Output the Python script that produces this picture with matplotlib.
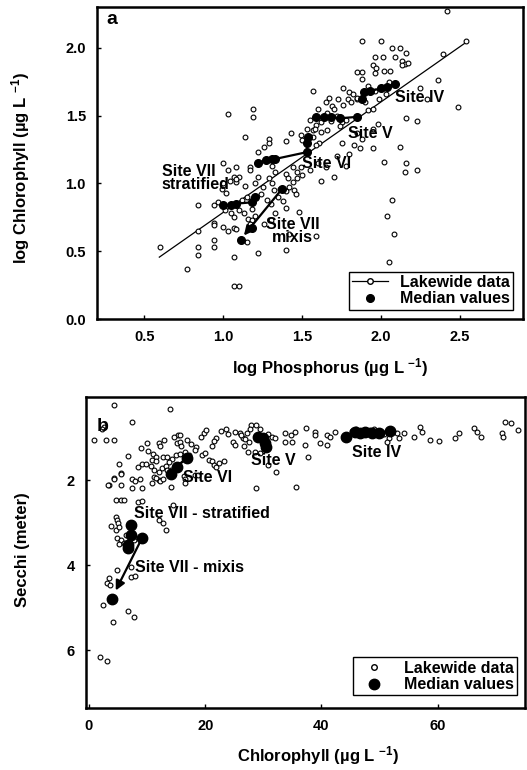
import matplotlib
matplotlib.use("Agg")
import matplotlib.pyplot as plt
from matplotlib.lines import Line2D

plt.rcParams['font.family'] = ['Liberation Sans', 'DejaVu Sans']
plt.rcParams['font.weight'] = 'bold'
plt.rcParams['mathtext.fontset'] = 'custom'
plt.rcParams['mathtext.rm'] = 'Liberation Sans:bold'
plt.rcParams['mathtext.default'] = 'rm'

# ---------------- Panel a data ----------------
a_lake = [
    (0.60,0.53),(0.77,0.37),(0.84,0.84),(0.84,0.65),(0.84,0.53),(0.84,0.47),(0.94,0.58),(0.94,0.53),
    (0.94,0.71),(0.94,0.69),(1.00,0.68),(1.03,0.65),(1.07,0.67),(1.08,0.66),(1.07,0.46),(1.07,0.24),
    (1.10,0.24),(1.15,0.57),(1.22,0.49),(1.40,0.51),(1.48,0.79),(1.40,0.82),(1.59,0.61),(1.42,0.63),
    (2.07,0.88),(2.04,0.76),(2.08,0.63),(2.05,0.42),
    (0.94,0.84),(0.97,0.86),(1.01,0.80),(1.05,0.78),(1.07,0.75),(1.10,0.80),(1.13,0.78),(1.16,0.74),
    (1.18,0.73),(1.17,0.70),(1.20,0.76),(1.18,0.81),(1.12,0.88),(1.15,0.90),(1.24,0.92),(1.28,0.88),
    (1.30,0.85),(1.33,0.78),(1.30,0.73),(1.26,0.70),
    (1.00,1.00),(1.04,1.02),(1.08,1.01),(1.14,0.98),(1.20,1.00),(1.42,0.97),(1.45,0.95),(0.99,0.96),
    (1.02,0.93),
    (1.03,1.51),(1.19,1.55),(1.19,1.49),(1.14,1.34),(1.29,1.33),(1.29,1.30),(1.26,1.27),(1.40,1.31),
    (1.43,1.37),(1.22,1.23),(1.00,1.15),(1.03,1.10),(1.08,1.12),(1.07,1.05),(1.10,1.05),(1.08,1.03),
    (1.17,1.12),(1.17,1.10),(1.22,1.05),(1.31,1.13),(1.33,1.08),(1.29,1.04),(1.31,1.00),(1.40,1.07),
    (1.41,1.04),(1.44,1.01),(1.47,1.04),(1.50,1.06),(1.44,1.12),(1.47,1.08),(1.49,1.12),(1.49,1.36),
    (1.53,1.40),(1.50,1.32),(1.57,1.39),(1.59,1.43),(1.62,1.38),(1.66,1.39),(1.57,1.34),(1.61,1.30),
    (1.59,1.28),(1.25,0.97),(1.32,0.95),(1.36,0.96),(1.40,0.94),(1.35,0.90),(1.38,0.87),(1.46,0.92),
    (1.55,1.10),(1.60,1.15),(1.65,1.12),(1.70,1.05),(1.62,1.02),(1.78,1.13),(1.85,1.37),(1.88,1.33),
    (1.83,1.28),(1.87,1.26),(1.95,1.26),(2.12,1.27),(2.02,1.16),(2.16,1.15),(2.15,1.08),(2.23,1.10),
    (1.72,1.20),(1.80,1.22),(1.75,1.30),
    (2.42,2.27),(1.88,2.05),(2.00,2.05),(2.39,1.95),(2.07,2.00),(2.12,2.00),(2.16,1.96),(1.96,1.93),
    (2.01,1.93),(2.09,1.93),(2.13,1.90),(2.15,1.88),(2.17,1.89),(1.85,1.82),(1.88,1.82),(1.95,1.87),
    (1.97,1.85),(2.02,1.83),(2.06,1.83),(2.13,1.87),(1.96,1.81),(1.88,1.77),(2.36,1.76),(1.57,1.68),
    (1.76,1.70),(1.80,1.67),(1.82,1.66),(1.85,1.62),(1.85,1.63),(1.67,1.63),(1.69,1.57),(1.73,1.62),
    (1.79,1.62),(1.81,1.60),(2.25,1.70),(2.29,1.62),(2.49,1.56),(1.92,1.54),(1.95,1.55),(2.16,1.48),
    (2.23,1.46),(1.98,1.44),(1.95,1.40),(1.66,1.52),(1.70,1.55),(1.68,1.46),(1.72,1.50),(1.75,1.45),
    (1.78,1.47),(1.74,1.42),(1.62,1.45),(1.58,1.40),(1.55,1.47),(1.60,1.55),(1.92,1.72),(1.96,1.68),
    (2.05,1.75),(1.90,1.60),(2.03,1.66),(1.99,1.62),(1.76,1.58),(1.65,1.60),(2.54,2.05),
]
a_lake_logP = [p[0] for p in a_lake]
a_lake_logChl = [p[1] for p in a_lake]

a_fit_logP = [0.595, 2.54]
a_fit_logChl = [0.456, 2.04]

a_med_VII_strat_P = [1.00, 1.05, 1.08, 1.18, 1.20]
a_med_VII_strat_C = [0.84, 0.84, 0.85, 0.86, 0.90]
a_med_VII_mix_P = [1.37, 1.18, 1.11]
a_med_VII_mix_C = [0.955, 0.67, 0.58]
a_med_VI_P = [1.22, 1.27, 1.31, 1.33, 1.53, 1.53, 1.54]
a_med_VI_C = [1.15, 1.17, 1.18, 1.18, 1.23, 1.30, 1.34]
a_med_V_P = [1.59, 1.64, 1.68, 1.74, 1.85]
a_med_V_C = [1.49, 1.49, 1.49, 1.48, 1.49]
a_med_IV_P = [1.88, 1.89, 1.93, 2.00, 2.04, 2.09]
a_med_IV_C = [1.62, 1.67, 1.68, 1.70, 1.71, 1.73]

# ---------------- Panel b data ----------------
b_lake = [
    (4.3,0.24),(14.0,0.33),(2.6,0.75),(2.3,0.80),(7.4,0.64),(0.9,1.06),(2.9,1.06),(4.3,1.06),
    (5.1,1.62),(6.8,1.44),(5.6,1.84),(4.3,1.95),(3.4,2.12),(5.6,2.12),(7.4,2.19),(9.1,2.19),(10.8,2.07),(12.0,2.0),
    (3.2,2.12),(4.4,1.98),(5.6,1.86),
    (4.6,2.47),(5.5,2.47),(6.0,2.47),(8.5,2.52),(9.1,2.50),(14.5,2.59),
    (12.0,2.94),(12.8,3.01),(13.2,3.18),
    (4.6,2.87),(4.8,2.94),(5.0,3.01),(3.8,3.08),(4.6,3.18),(5.1,3.10),
    (4.8,3.36),(5.5,3.41),(5.1,3.50),(6.0,3.48),(6.3,3.29),(7.7,3.41),
    (4.8,4.12),(7.3,4.05),(7.2,4.28),(8.0,4.26),(3.4,4.31),(3.1,4.42),(3.6,4.47),(2.4,4.94),(6.7,5.08),
    (7.7,5.22),(4.1,5.34),(1.9,6.16),(3.1,6.24),
    (15.4,0.94),(19.8,0.90),(23.6,0.80),(22.7,0.85),(21.9,1.01),(21.5,1.08),(21.2,1.20),(24.8,1.10),
    (25.1,1.18),(26.0,0.90),(26.5,1.01),(27.9,0.71),(27.7,0.80),(27.2,0.90),(26.8,1.04),
    (12.0,1.13),(12.3,1.20),(15.1,1.13),(15.7,1.11),(15.9,1.20),(15.7,0.94),
    (10.1,1.32),(11.1,1.39),(11.5,1.46),(10.8,1.53),(11.6,1.55),
    (12.8,1.45),(13.5,1.45),(14.3,1.50),(15.0,1.42),(15.7,1.38),(16.5,1.34),(17.2,1.40),
    (8.5,1.70),(9.1,1.62),(9.8,1.62),(10.6,1.66),(11.2,1.76),(12.0,1.80),(12.6,1.72),(13.2,1.66),(13.8,1.58),
    (7.4,1.98),(8.0,2.02),(8.8,1.98),(11.2,1.92),(11.6,1.96),(12.3,2.02),(12.7,1.98),(13.4,1.76),(14.2,1.76),
    (18.5,1.22),(18.2,1.30),(19.4,1.40),(20.0,1.36),(20.6,1.52),(21.2,1.56),(21.5,1.64),(21.8,1.69),
    (22.4,1.60),(23.2,1.56),
    (16.4,1.90),(16.5,1.98),(16.6,2.07),(18.3,1.88),(18.8,1.88),(14.2,2.17),
    (28.5,1.33),(29.4,1.37),(27.4,1.33),(30.8,1.65),(32.1,1.81),(28.7,2.19),(35.6,2.17),(37.6,1.46),
    (24.0,0.92),(25.2,0.87),(26.2,0.95),(28.8,0.70),(29.5,0.80),(30.8,0.93),(31.5,1.00),(27.5,1.10),(26.7,1.20),
    (32.0,1.01),(33.7,0.89),(33.8,1.10),(34.7,0.94),(35.4,0.87),(35.0,1.10),(37.3,0.78),(38.8,0.87),
    (38.8,0.94),(37.1,1.18),
    (39.8,1.13),(40.9,0.94),(41.4,0.99),(42.4,0.87),(41.0,1.18),
    (47.4,0.90),(48.4,0.82),(49.1,0.80),(50.1,0.87),(50.8,0.92),(51.6,1.01),(51.3,1.10),(46.0,0.80),(45.3,0.84),
    (53.3,1.01),(54.2,0.90),(53.0,0.90),(55.9,0.99),(56.9,0.75),(57.3,0.87),(58.6,1.06),(60.2,1.08),
    (63.6,0.90),(62.9,1.01),(66.2,0.78),(66.7,0.87),(67.5,0.99),(71.0,0.90),(71.3,0.99),(71.5,0.64),
    (72.6,0.66),(73.8,0.82),
    (9.0,1.25),(10.0,1.12),(13.0,1.05),(14.6,1.00),(16.8,1.05),(17.5,1.15),(19.2,1.00),(20.2,0.82),
]
b_lake_chl = [p[0] for p in b_lake]
b_lake_secchi = [p[1] for p in b_lake]

b_med_VII_chl = [7.3, 7.3, 6.8, 6.8]
b_med_VII_sec = [3.06, 3.30, 3.53, 3.60]
b_med_VII_mix_chl = [9.1, 3.9]
b_med_VII_mix_sec = [3.37, 4.80]
b_med_VI_chl = [14.2, 15.1, 16.8]
b_med_VI_sec = [1.86, 1.69, 1.48]
b_med_V_chl = [29.0, 29.9, 30.2, 30.5]
b_med_V_sec = [0.99, 1.01, 1.13, 1.22]
b_med_IV_chl = [44.3, 45.8, 46.7, 47.5, 48.7, 49.9, 51.8]
b_med_IV_sec = [0.99, 0.87, 0.89, 0.87, 0.89, 0.89, 0.85]

# ---------------- Figure ----------------
W, H = 527, 770
fig = plt.figure(figsize=(W / 100, H / 100), dpi=100)
axa = fig.add_axes([97/W, 1-319/H, (523-97)/W, (319-7)/H])
axb = fig.add_axes([86/W, 1-708/H, (525-86)/W, (708-397)/H])

open_kw = dict(s=12, facecolors='white', edgecolors='black', linewidths=0.8, zorder=3)

# Panel a
axa.plot(a_fit_logP, a_fit_logChl, color='black', lw=0.9, zorder=2)
axa.scatter(a_lake_logP, a_lake_logChl, **open_kw)
med_kw = dict(color='black', lw=1.6, marker='o', ms=5.5, zorder=4)
for xs, ys in [(a_med_VII_strat_P, a_med_VII_strat_C), (a_med_VI_P, a_med_VI_C),
               (a_med_V_P, a_med_V_C), (a_med_IV_P, a_med_IV_C)]:
    axa.plot(xs, ys, **med_kw)
axa.plot(a_med_VII_mix_P, a_med_VII_mix_C, color='black', lw=0, marker='o', ms=5.5, zorder=4)
axa.annotate('', xy=(a_med_VII_mix_P[-1] + 0.01, a_med_VII_mix_C[-1] + 0.02),
             xytext=(a_med_VII_mix_P[0], a_med_VII_mix_C[0]),
             arrowprops=dict(arrowstyle='-|>', color='black', lw=1.6, mutation_scale=14), zorder=5)

axa.set_xlim(0.2, 2.9)
axa.set_ylim(0.0, 2.3)
axa.set_xticks([0.5, 1.0, 1.5, 2.0, 2.5])
axa.set_yticks([0.0, 0.5, 1.0, 1.5, 2.0])
axa.set_xticklabels(['0.5', '1.0', '1.5', '2.0', '2.5'])
axa.set_yticklabels(['0.0', '0.5', '1.0', '1.5', '2.0'])

lab_kw = dict(fontsize=11.5, fontweight='bold', zorder=6)
axa.text(2.09, 1.63, 'Site IV', va='center', ha='left', **lab_kw)
axa.text(1.79, 1.37, 'Site V', va='center', ha='left', **lab_kw)
axa.text(1.50, 1.15, 'Site VI', va='center', ha='left', **lab_kw)
axa.text(0.61, 1.04, 'Site VII\nstratified', va='center', ha='left', linespacing=0.9, **lab_kw)
axa.text(1.44, 0.65, 'Site VII\nmixis', va='center', ha='center', linespacing=0.8, **lab_kw)
axa.text(0.26, 2.21, 'a', fontsize=14, fontweight='bold', va='center', ha='left')

h1 = Line2D([], [], color='black', lw=0.9, marker='o', ms=4, mfc='white', mec='black')
h2 = Line2D([], [], color='black', lw=0, marker='o', ms=5.5)
leg = axa.legend([h1, h2], ['Lakewide data', 'Median values'], loc='lower right',
                 bbox_to_anchor=(0.985, 0.02), fancybox=False, edgecolor='black',
                 framealpha=1, fontsize=11.5, handlelength=2.2, borderpad=0.2,
                 labelspacing=0.1, handletextpad=0.8, borderaxespad=0.2)
leg.get_frame().set_linewidth(1.0)
for t in leg.get_texts():
    t.set_fontweight('bold')

# Panel b
axb.scatter(b_lake_chl, b_lake_secchi, **open_kw)
medb_kw = dict(color='black', lw=1.8, marker='o', ms=7.5, zorder=4)
for xs, ys in [(b_med_VII_chl, b_med_VII_sec), (b_med_VI_chl, b_med_VI_sec),
               (b_med_V_chl, b_med_V_sec), (b_med_IV_chl, b_med_IV_sec)]:
    axb.plot(xs, ys, **medb_kw)
axb.plot(b_med_VII_mix_chl, b_med_VII_mix_sec, color='black', lw=0, marker='o', ms=7.5, zorder=4)
axb.annotate('', xy=(b_med_VII_mix_chl[1] + 0.5, b_med_VII_mix_sec[1] - 0.15),
             xytext=(b_med_VII_mix_chl[0], b_med_VII_mix_sec[0]),
             arrowprops=dict(arrowstyle='-|>', color='black', lw=1.6, mutation_scale=14), zorder=5)

axb.set_xlim(-0.5, 75)
axb.set_ylim(7.35, 0.05)
axb.set_xticks([0, 20, 40, 60])
axb.set_yticks([2, 4, 6])

axb.text(45.3, 1.36, 'Site IV', va='center', ha='left', **lab_kw)
axb.text(27.9, 1.53, 'Site V', va='center', ha='left', **lab_kw)
axb.text(16.2, 1.95, 'Site VI', va='center', ha='left', **lab_kw)
axb.text(7.7, 2.78, 'Site VII - stratified', va='center', ha='left', **lab_kw)
axb.text(8.0, 4.05, 'Site VII - mixis', va='center', ha='left', **lab_kw)
axb.text(1.3, 0.75, 'b', fontsize=14, fontweight='bold', va='center', ha='left')

h3 = Line2D([], [], color='black', lw=0, marker='o', ms=4, mfc='white', mec='black')
h4 = Line2D([], [], color='black', lw=0, marker='o', ms=7.5)
legb = axb.legend([h3, h4], ['Lakewide data', 'Median values'], loc='lower right',
                  bbox_to_anchor=(0.99, 0.03), fancybox=False, edgecolor='black',
                  framealpha=1, fontsize=11.5, handlelength=2.2, borderpad=0.2,
                  labelspacing=0.1, handletextpad=0.8, borderaxespad=0.2)
legb.get_frame().set_linewidth(1.0)
for t in legb.get_texts():
    t.set_fontweight('bold')

# Axis titles placed in figure pixels
axlab_kw = dict(fontsize=12, fontweight='bold', ha='center', va='center')
fig.text(330/W, 1-368/H, r'log Phosphorus (µg L $^{-1}$)', **axlab_kw)
fig.text(21/W, 1-168/H, r'log Chlorophyll (µg L $^{-1}$)', rotation=90, **axlab_kw)
fig.text(318/W, 1-756/H, r'Chlorophyll (µg L $^{-1}$)', **axlab_kw)
fig.text(23/W, 1-550/H, 'Secchi (meter)', rotation=90, **axlab_kw)

for ax in (axa, axb):
    for sp in ax.spines.values():
        sp.set_linewidth(1.8)
    ax.tick_params(direction='in', length=3, width=1, labelsize=10.5, pad=8)
    for lbl in ax.get_xticklabels() + ax.get_yticklabels():
        lbl.set_fontweight('bold')

fig.savefig('out.png', dpi=100)
